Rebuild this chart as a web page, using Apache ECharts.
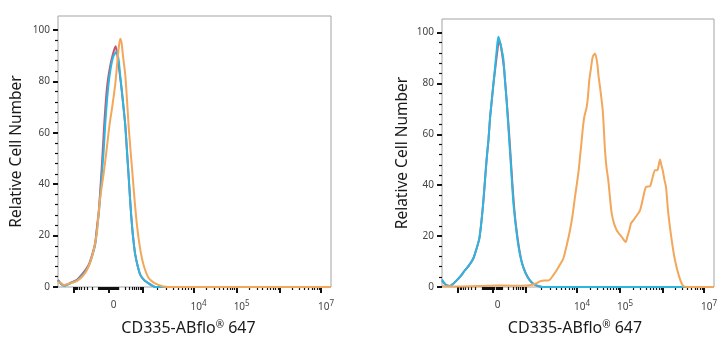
<!DOCTYPE html>
<html lang="en">
<head>
<meta charset="UTF-8">
<title>CD335-ABflo 647</title>
<script src="https://cdn.jsdelivr.net/npm/echarts@6.0.0/dist/echarts.min.js"></script>
<style>
  html, body { margin: 0; padding: 0; background: #fff; }
  #chart { width: 728px; height: 350px; }
</style>
</head>
<body>
<div id="chart"></div>
<script>
// x is in display channels of the biexponential axis (0 .. 272)
const xMajorTicks = [15.5, 50.5, 84, 135, 178, 221, 262];
const xLabelTicks = [50.5, 135, 178, 262];
const xLabelTexts = ['0', '10{sup|4}', '10{sup|5}', '10{sup|7}'];
const yMajorTicks = [0, 20, 40, 60, 80, 100];
const yMinorTicks = [4, 8, 12, 16, 24, 28, 32, 36, 44, 48, 52, 56, 64, 68, 72, 76, 84, 88, 92, 96];

// left panel: unstained / isotype / stained (all negative)
const leftRed = [[0,2.8],[3,1.3],[6,0.6],[10,1.1],[14,1.9],[19,2.8],[24,5],[28,7],[31,9],[34,12.5],[37,17],[39,24],[40.5,29],[42,37],[43.5,46],[45,56],[46.5,66],[48,74],[49.5,80],[52,86],[55,91],[57.5,93.6],[59.5,89],[61.5,83],[63.5,76.5],[65.5,69],[67,63],[68.7,53],[70.3,43.6],[72,33],[73.7,24],[75.5,17],[77,12.5],[79.5,8],[82,4.7],[86,2.6],[90.3,1.4],[94,0.5],[97,0],[272,0]];
const leftCyan = [[0,2.5],[3,1.2],[6,0.5],[10,1.0],[14,1.8],[19,2.6],[24,4.5],[28,6.5],[31,8.6],[34,12],[37,16.4],[39,23],[40.5,28],[42,35],[43.7,43.6],[45.5,53],[47,63],[48.5,71],[50.3,78.7],[52.5,85],[55,89.5],[58.5,91.7],[60.5,88],[62,82],[63.7,76],[65.5,69],[67,63],[68.7,53],[70.3,43.6],[72,33],[73.7,24],[75.5,17],[77,12.5],[79.5,8],[82,4.7],[86,2.6],[90.3,1.4],[94,0.5],[97,0],[272,0]];
const leftOrange = [[0,2],[3,1.5],[6,0.8],[10,1.2],[14,1.6],[19,2.4],[24,4],[28,6],[31,8.5],[34,12],[37,17],[39,22],[40.3,28],[42.5,36],[45.3,43.6],[48,52],[51.3,63],[54,70],[57,78.7],[59,87],[60.5,93],[62,96.6],[63.3,95],[65,89],[67,82.6],[68.7,73],[70.3,63],[72.3,53],[74.3,43.6],[76.5,33],[78.7,24],[81,17],[83.7,11],[86.5,7],[90.3,3.5],[95,1.8],[100,0.8],[105,0.2],[110,0],[272,0]];

// right panel
const rightRed = [[0,2.6],[1.5,1.8],[4,0.8],[8,0.4],[11,1.2],[14.7,2.6],[19,4.5],[23,6.6],[27,8.5],[31.3,11.2],[34.5,15],[37.3,19],[39.5,26],[41.3,33.4],[43,42],[44.7,50.5],[46.5,58],[48,66.2],[49.7,73],[51.3,79.3],[53,85],[55,91.5],[57,96.5],[58.5,95.5],[60.3,91],[62,86],[63.7,78],[65.3,70],[67,61],[68.7,51],[70.3,41],[72,32],[74,24],[77,15.5],[80,9.5],[83.5,5.6],[87.5,2.8],[91.5,1.2],[96,0.4],[101,0],[272,0]];
const rightCyan = [[0,3],[1.5,2],[4,0.8],[8,0.4],[11,1.2],[14.7,2.6],[19,4.5],[23,6.6],[27,8.5],[31.3,11.2],[34.5,15],[37.3,19],[39.5,26],[41.3,33.4],[43,42],[44.7,50.5],[46.5,58],[48,66.2],[49.7,73],[51.3,79.3],[53,86],[54.7,93],[56.3,98.3],[57.5,97],[59.3,94],[61.3,89.8],[63,81],[64.7,72.7],[66.3,63],[68,53],[69.7,43],[71.3,33.4],[73.5,25],[76.3,16.4],[79.5,10],[83,5.9],[87,3],[91.3,1.3],[96,0.4],[101,0],[272,0]];
const rightOrange = [[0,0.3],[20,0.2],[40,0.4],[55,0.6],[70,0.5],[85,0.6],[91,1.0],[94.7,1.5],[98,2.2],[102,2.6],[106,2.6],[108,2.9],[111,4.5],[114.7,6.6],[118,8.8],[121.3,11.2],[124.5,16],[128,22.3],[130.5,28],[133,35.4],[136.3,44.6],[138,51],[139.7,57.7],[141,63],[142.3,66.8],[144.7,70.8],[146,75],[147.3,81.3],[149,86],[150.7,90.4],[153,91.7],[155.3,87.8],[156.5,83],[158,78.6],[160.7,69.5],[162,61],[163,53.7],[164.5,47],[166.3,41.9],[168,35],[169.7,28.9],[172,25],[174.7,22.3],[177,21],[179.7,19.7],[183.7,17.7],[185.5,20],[187.3,22.3],[189,25],[191.3,26.2],[194,27.7],[198,30.1],[201.3,35.4],[204,39.3],[208,39.6],[210.7,43.2],[213,45.9],[215.3,45.9],[216.5,47.5],[218,50.1],[219.3,48],[220.7,45.9],[222.5,42],[224,39.3],[226.3,28.9],[229.7,18.4],[233,10.5],[237.3,3.9],[241.3,0.3],[245,0],[272,0]];

const RED = '#c9566e', CYAN = '#2bb6e2', ORANGE = '#f2a75a';

// minor tick positions along the biexponential axis
function minorXTicks() {
  const out = [];
  const z = 50.5, k = Math.asinh(10);
  for (let v = 10; v < 1000; v += (v < 100 ? 10 : 100)) {
    out.push(z - 35 * Math.asinh(v / 100) / k);
    out.push(z + 33.5 * Math.asinh(v / 100) / k);
  }
  const decades = [[84, 135], [135, 178], [178, 221], [221, 262]];
  decades.forEach(d => {
    for (let i = 2; i <= 9; i++) out.push(d[0] + (d[1] - d[0]) * Math.log10(i));
  });
  return out;
}
const xMinorTicks = minorXTicks();

const fontFam = 'Noto Sans';
const grids = [
  { left: 58, top: 16, width: 273, height: 271, yMax: 105.4, nameGap: 33 },
  { left: 442, top: 19, width: 272, height: 268, yMax: 105.3, nameGap: 31 }
];

let option = { animation: false, grid: [], xAxis: [], yAxis: [], series: [] };

grids.forEach((g, i) => {
  option.grid.push({ left: g.left, top: g.top, width: g.width, height: g.height,
    show: true, borderColor: '#a3a3a3', borderWidth: 1, backgroundColor: '#fff' });
  // main x axis: labels + major ticks + name
  option.xAxis.push({
    type: 'value', gridIndex: i, min: 0, max: 272, position: 'bottom',
    splitLine: { show: false }, axisLine: { show: false },
    axisTick: { show: true, length: 6, customValues: xMajorTicks, lineStyle: { color: '#111', width: 2 } },
    axisLabel: {
      customValues: xLabelTicks, margin: 13, color: '#444', fontSize: 10, fontFamily: fontFam,
      padding: [0, 0, 0, 10],
      formatter: v => {
        const j = xLabelTicks.findIndex(t => Math.abs(t - v) < 0.01);
        return j >= 0 ? xLabelTexts[j] : '';
      },
      rich: { sup: { fontSize: 8, color: '#444', verticalAlign: 'top', padding: [0, 0, 6, 0], fontFamily: fontFam } }
    },
    name: 'CD335-ABflo{sup|®} 647', nameLocation: 'middle', nameGap: 33,
    nameTextStyle: { fontSize: 16, color: '#1a1a1a', fontFamily: fontFam, padding: i === 0 ? [0, 12, 0, 0] : [0, 6, 0, 0],
      rich: { sup: { fontSize: 10, color: '#1a1a1a', padding: [0, 0, 7, 0], fontFamily: fontFam } } }
  });
  // minor x ticks
  option.xAxis.push({
    type: 'value', gridIndex: i, min: 0, max: 272, position: 'bottom',
    splitLine: { show: false }, axisLine: { show: false }, axisLabel: { show: false },
    axisTick: { show: true, length: 3, customValues: xMinorTicks, lineStyle: { color: '#111', width: 1.2 } }
  });
  option.yAxis.push({
    type: 'value', gridIndex: i, min: 0, max: g.yMax, position: 'left',
    splitLine: { show: false }, axisLine: { show: false },
    axisTick: { show: true, length: 5, customValues: yMajorTicks, lineStyle: { color: '#111', width: 2 } },
    axisLabel: { customValues: yMajorTicks, margin: 8, color: '#444', fontSize: 10, fontFamily: fontFam },
    name: 'Relative Cell Number', nameLocation: 'middle', nameGap: g.nameGap,
    nameTextStyle: { fontSize: 15.5, color: '#1a1a1a', fontFamily: fontFam }
  });
  option.yAxis.push({
    type: 'value', gridIndex: i, min: 0, max: g.yMax, position: 'left',
    splitLine: { show: false }, axisLine: { show: false }, axisLabel: { show: false },
    axisTick: { show: true, length: 3, customValues: yMinorTicks, lineStyle: { color: '#111', width: 1.2 } }
  });
});

function histo(data, color, gi) {
  return {
    type: 'line', data: data, xAxisIndex: gi * 2, yAxisIndex: gi * 2,
    showSymbol: false, smooth: 0.25, clip: true,
    lineStyle: { color: color, width: 2 }
  };
}

option.series = [
  histo(leftRed, RED, 0), histo(leftCyan, CYAN, 0), histo(leftOrange, ORANGE, 0),
  histo(rightRed, RED, 1), histo(rightCyan, CYAN, 1), histo(rightOrange, ORANGE, 1)
];

let chart = echarts.init(document.getElementById('chart'));
chart.setOption(option);
</script>
</body>
</html>
